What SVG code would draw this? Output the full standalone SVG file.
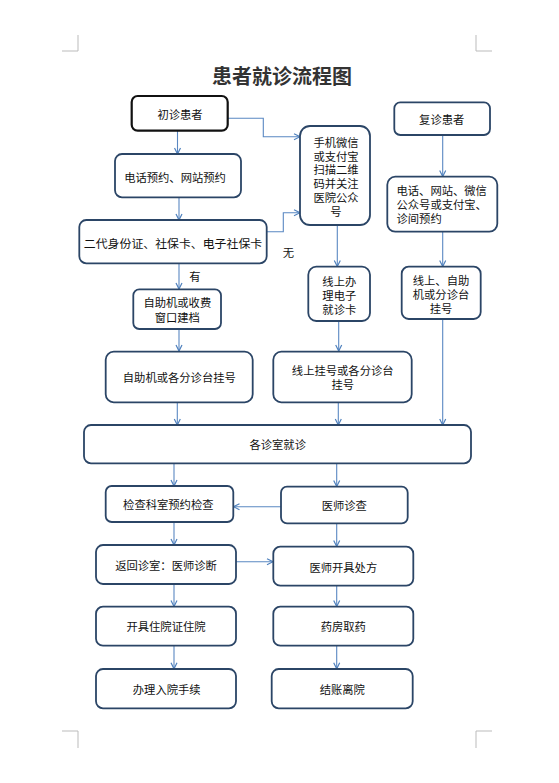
<svg xmlns="http://www.w3.org/2000/svg" width="559" height="783" viewBox="0 0 559 783">
<defs>
<marker id="ah" markerWidth="8" markerHeight="8" refX="7" refY="4" orient="auto" markerUnits="userSpaceOnUse">
<path d="M1,1 L7,4 L1,7" fill="none" stroke="#4f81bd" stroke-width="1.2"/>
</marker>
<style>
.bx{fill:#fff;stroke:#2b4566;stroke-width:1.8}
.bk{fill:#fff;stroke:#111;stroke-width:2.2}
.t{font-family:"Noto Sans CJK SC","Noto Sans",sans-serif;font-size:11.3px;fill:#111;text-anchor:middle;dominant-baseline:central}
.tl{text-anchor:start}
.c{fill:none;stroke:#5a88c2;stroke-width:1.1;marker-end:url(#ah)}
.cm{fill:none;stroke:#bbb;stroke-width:1}
</style>
</defs>
<rect width="559" height="783" fill="#fff"/>
<g id="corners">
<path class="cm" d="M78,35 V51 H62 M476,35 V51 H492 M62,731 H78 V748 M492,731 H476 V748"/>
</g>
<text x="282" y="75" style="font-family:'Noto Sans CJK SC',sans-serif;font-size:20px;font-weight:bold;fill:#333;text-anchor:middle;dominant-baseline:central">患者就诊流程图</text>
<g id="connectors">
<path class="c" d="M177.5,131 V154"/>
<path class="c" d="M179,197 V220"/>
<path class="c" d="M228,118.3 H263.3 V136.7 H300"/>
<path class="c" d="M266.7,231.7 H283.3 V212.7 H300"/>
<path class="c" d="M179,263.5 V289"/>
<path class="c" d="M179,329 V351"/>
<path class="c" d="M337.3,225 V266.5"/>
<path class="c" d="M338.7,321 V351"/>
<path class="c" d="M442.7,135 V176.5"/>
<path class="c" d="M442.7,231.7 V266.5"/>
<path class="c" d="M442.7,319 V425"/>
<path class="c" d="M177.3,402.3 V425"/>
<path class="c" d="M338.3,402.3 V425"/>
<path class="c" d="M174,463.3 V486"/>
<path class="c" d="M336.7,463.3 V486.5"/>
<path class="c" d="M281,506.7 H233.5"/>
<path class="c" d="M174,522 V545"/>
<path class="c" d="M336.7,523.3 V546.5"/>
<path class="c" d="M236,561.7 H273"/>
<path class="c" d="M174,584 V606.5"/>
<path class="c" d="M336.7,585.7 V606.5"/>
<path class="c" d="M174,645.7 V668.8"/>
<path class="c" d="M336.7,645.7 V668.8"/>
</g>
<g id="labels">
<text class="t" x="288.3" y="252">无</text>
<text class="t" x="195" y="275.5">有</text>
</g>
<g id="n1"><rect class="bk" x="131.7" y="96" width="96" height="34.7" rx="6"/><text class="t" x="180" y="114">初诊患者</text></g>
<g id="n2"><rect class="bx" x="115" y="154" width="126" height="43.3" rx="7"/><text class="t" x="175" y="176.5">电话预约、网站预约</text></g>
<g id="n3"><rect class="bx" x="79.3" y="220" width="187.4" height="43.3" rx="7"/><text class="t" x="173" y="242.5" style="font-size:11.9px">二代身份证、社保卡、电子社保卡</text></g>
<g id="n4"><rect class="bx" x="300" y="126" width="70" height="99" rx="10"/>
<text class="t" x="336" y="141.7"><tspan x="336">手机微信</tspan><tspan x="336" dy="13.86">或支付宝</tspan><tspan x="336" dy="13.86">扫描二维</tspan><tspan x="336" dy="13.86">码并关注</tspan><tspan x="336" dy="13.86">医院公众</tspan><tspan x="336" dy="13.86">号</tspan></text></g>
<g id="n5"><rect class="bx" x="394.3" y="102.3" width="95.7" height="32.7" rx="6"/><text class="t" x="441.7" y="119">复诊患者</text></g>
<g id="n6"><rect class="bx" x="387.3" y="176.7" width="110" height="55" rx="8"/>
<text class="t tl" x="396.5" y="190"><tspan x="396.5">电话、网站、微信</tspan><tspan x="396.5" dy="13.85">公众号或支付宝、</tspan><tspan x="396.5" dy="13.85">诊间预约</tspan></text></g>
<g id="n7"><rect class="bx" x="133.3" y="289.3" width="87.7" height="39.7" rx="6"/>
<text class="t" x="177.3" y="302.3"><tspan x="177.3">自助机或收费</tspan><tspan x="177.3" dy="14.4">窗口建档</tspan></text></g>
<g id="n8"><rect class="bx" x="308.3" y="266.7" width="61.7" height="54.3" rx="8"/>
<text class="t" x="339.3" y="280.7"><tspan x="339.3">线上办</tspan><tspan x="339.3" dy="14">理电子</tspan><tspan x="339.3" dy="14">就诊卡</tspan></text></g>
<g id="n9"><rect class="bx" x="401.7" y="266.7" width="79" height="52.3" rx="7"/>
<text class="t" x="441" y="279.5"><tspan x="441">线上、自助</tspan><tspan x="441" dy="14">机或分诊台</tspan><tspan x="441" dy="14">挂号</tspan></text></g>
<g id="n10"><rect class="bx" x="105.7" y="351.7" width="147" height="50.6" rx="8"/><text class="t" x="179.3" y="377.3">自助机或各分诊台挂号</text></g>
<g id="n11"><rect class="bx" x="273.3" y="351.7" width="138.4" height="50.6" rx="8"/>
<text class="t" x="342.7" y="370"><tspan x="342.7">线上挂号或各分诊台</tspan><tspan x="342.7" dy="14.3">挂号</tspan></text></g>
<g id="n12"><rect class="bx" x="84" y="425" width="387" height="38.3" rx="7"/><text class="t" x="277.7" y="444.3">各诊室就诊</text></g>
<g id="n13"><rect class="bx" x="105.7" y="486" width="127.6" height="36" rx="6"/><text class="t" x="168.3" y="504.3">检查科室预约检查</text></g>
<g id="n14"><rect class="bx" x="281" y="486.7" width="126.7" height="36.6" rx="6"/><text class="t" x="344.3" y="505.3">医师诊查</text></g>
<g id="n15"><rect class="bx" x="96" y="545" width="140" height="39" rx="7"/><text class="t" x="166" y="565">返回诊室：医师诊断</text></g>
<g id="n16"><rect class="bx" x="273.3" y="546.7" width="140" height="39" rx="7"/><text class="t" x="343.3" y="566.7">医师开具处方</text></g>
<g id="n17"><rect class="bx" x="96" y="606.7" width="140" height="39" rx="7"/><text class="t" x="166" y="626">开具住院证住院</text></g>
<g id="n18"><rect class="bx" x="273.3" y="606.7" width="140" height="39" rx="7"/><text class="t" x="343.3" y="626">药房取药</text></g>
<g id="n19"><rect class="bx" x="96" y="669" width="140" height="39.3" rx="7"/><text class="t" x="166.7" y="689">办理入院手续</text></g>
<g id="n20"><rect class="bx" x="271.7" y="669" width="141" height="39.3" rx="7"/><text class="t" x="342.3" y="689">结账离院</text></g>
</svg>
